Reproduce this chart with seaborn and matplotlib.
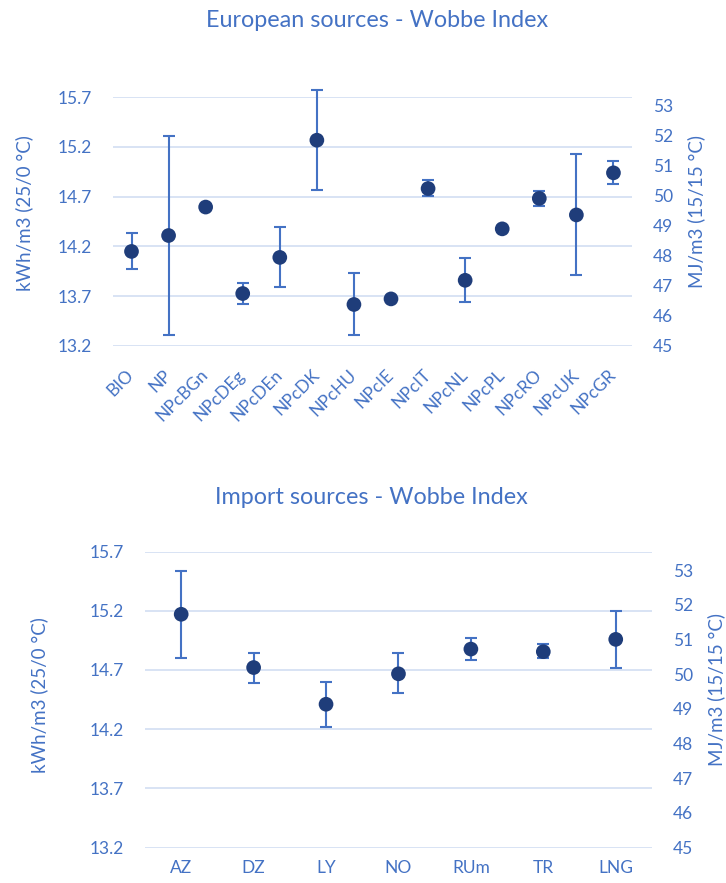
import numpy as np
import pandas as pd
import matplotlib
matplotlib.use("Agg")
import matplotlib.pyplot as plt
import seaborn as sns

# European sources: mean Wobbe index with min/max range (kWh/m3, 25/0 °C)
eu_sources = ["BIO", "NP", "NPcBGn", "NPcDEg", "NPcDEn", "NPcDK", "NPcHU",
              "NPcIE", "NPcIT", "NPcNL", "NPcPL", "NPcRO", "NPcUK", "NPcGR"]
eu_mean = [14.15, 14.31, 14.596, 13.727, 14.09, 15.268, 13.617,
           13.673, 14.782, 13.86, 14.377, 14.683, 14.517, 14.94]
eu_min = [13.972, 13.31, None, 13.617, 13.79, 14.764, 13.31,
          None, 14.71, 13.643, None, 14.607, 13.91, 14.832]
eu_max = [14.333, 15.314, None, 13.833, 14.393, 15.774, 13.933,
          None, 14.866, 14.083, None, 14.76, 15.129, 15.055]

# Import sources
imp_sources = ["AZ", "DZ", "LY", "NO", "RUm", "TR", "LNG"]
imp_mean = [15.17, 14.72, 14.41, 14.667, 14.876, 14.854, 14.958]
imp_min = [14.80, 14.593, 14.215, 14.503, 14.784, 14.798, 14.72]
imp_max = [15.536, 14.845, 14.60, 14.84, 14.97, 14.918, 15.197]

kwh_ticks = [13.2, 13.7, 14.2, 14.7, 15.2, 15.7]
mj_ticks = [45, 46, 47, 48, 49, 50, 51, 52, 53]

BLUE = "#4472C4"
NAVY = "#1F3D7A"
GRID = "#D6E0F3"
TICK_SIZE = 12.5
LABEL_SIZE = 13.5

sns.set_theme(style="white")
plt.rcParams["font.family"] = ["Lato", "DejaVu Sans"]

fig = plt.figure(figsize=(7.26, 8.83), dpi=100)
ax_top = fig.add_axes([0.1556, 0.6082, 0.7149, 0.2817])
ax_bot = fig.add_axes([0.1997, 0.0402, 0.6983, 0.3352])


def draw_panel(ax, sources, mean, lo, hi, mj_top, rotate):
    mean = np.asarray(mean, dtype=float)
    lo = np.asarray([np.nan if v is None else v for v in lo], dtype=float)
    hi = np.asarray([np.nan if v is None else v for v in hi], dtype=float)
    df = pd.DataFrame({"source": sources, "wobbe": mean})

    pos = np.arange(len(sources))
    has = ~np.isnan(lo)
    bars = ax.errorbar(pos[has], mean[has],
                       yerr=[mean[has] - lo[has], hi[has] - mean[has]],
                       fmt="none", ecolor=BLUE, elinewidth=1.5, capsize=4.3,
                       capthick=1.5, zorder=2)
    for artist in bars.lines[1] + bars.lines[2]:
        artist.set_clip_on(False)
    sns.scatterplot(data=df, x="source", y="wobbe", ax=ax, s=112,
                    color=NAVY, edgecolor="none", zorder=3, legend=False)

    ax.set_xlim(-0.5, len(sources) - 0.5)
    ax.set_ylim(13.2, 15.7)
    ax.set_yticks(kwh_ticks)
    ax.set_yticklabels([f"{t:.1f}" for t in kwh_ticks])
    ax.set_xticks(pos)
    if rotate:
        ax.set_xticklabels(sources, rotation=45, ha="right", va="center",
                           rotation_mode="anchor")
        ax.tick_params(axis="x", pad=19)
    else:
        ax.set_xticklabels(sources)
        ax.tick_params(axis="x", pad=9)
    ax.set_xlabel("")
    ax.set_ylabel("kWh/m3 (25/0 °C)", color=BLUE, fontsize=LABEL_SIZE)
    ax.yaxis.grid(True, color=GRID, linewidth=1.3)
    ax.xaxis.grid(False)
    ax.set_axisbelow(True)
    ax.tick_params(axis="both", length=0, labelcolor=BLUE, labelsize=TICK_SIZE)
    ax.tick_params(axis="y", pad=15)
    for s in ax.spines.values():
        s.set_visible(False)

    ax2 = ax.twinx()
    ax2.set_ylim(45, mj_top)
    ax2.set_yticks(mj_ticks)
    ax2.set_yticklabels([str(t) for t in mj_ticks])
    ax2.grid(False)
    ax2.tick_params(axis="y", length=0, labelcolor=BLUE, labelsize=TICK_SIZE,
                    pad=15)
    ax2.set_ylabel("MJ/m3 (15/15 °C)", color=BLUE, fontsize=LABEL_SIZE)
    for s in ax2.spines.values():
        s.set_visible(False)
    return ax2


r_top = draw_panel(ax_top, eu_sources, eu_mean, eu_min, eu_max, 53.29, True)
r_bot = draw_panel(ax_bot, imp_sources, imp_mean, imp_min, imp_max, 53.54, False)

ax_top.yaxis.set_label_coords(-0.154, 0.536)
r_top.yaxis.set_label_coords(1.106, 0.54)
ax_bot.yaxis.set_label_coords(-0.191, 0.514)
r_bot.yaxis.set_label_coords(1.110, 0.535)

fig.text(0.519, 0.977, "European sources - Wobbe Index", color=BLUE,
         fontsize=16.8, ha="center", va="center")
fig.text(0.511, 0.437, "Import sources - Wobbe Index", color=BLUE,
         fontsize=16.8, ha="center", va="center")

fig.savefig("out.png", dpi=100)
